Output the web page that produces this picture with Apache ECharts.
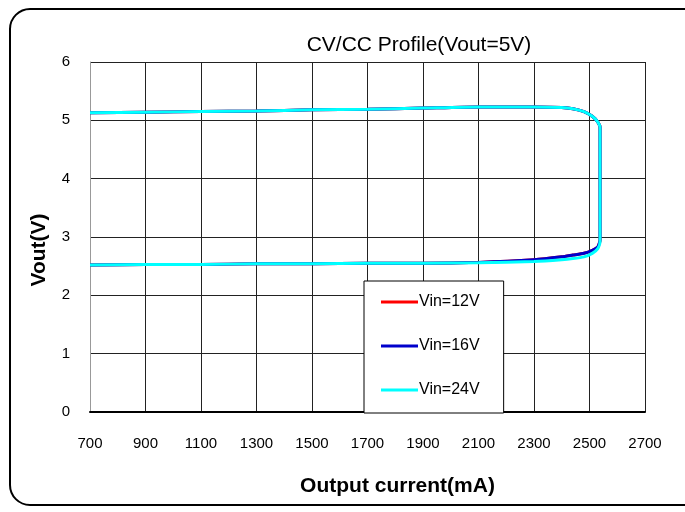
<!DOCTYPE html>
<html>
<head>
<meta charset="utf-8">
<script src="https://cdn.jsdelivr.net/npm/echarts@6/dist/echarts.min.js"></script>
<style>
  html, body { margin: 0; padding: 0; background: #fff; }
  #chart { width: 685px; height: 512px; }
</style>
</head>
<body>
<div id="chart"></div>
<script>
// output current (mA), traced along the loop: top branch left to right, then back along the bottom
const current = [700, 900, 1100, 1300, 1500, 1700, 1900, 2100, 2300, 2400, 2440, 2480, 2510, 2530, 2538,
                 2538, 2530, 2510, 2480, 2440, 2400, 2300, 2100, 1900, 1700, 1500, 1300, 1100, 900, 700];
const vin12 = [5.13, 5.14, 5.15, 5.16, 5.18, 5.19, 5.21, 5.23, 5.23, 5.22, 5.20, 5.15, 5.07, 4.97, 4.88,
               2.95, 2.83, 2.77, 2.72, 2.69, 2.66, 2.61, 2.565, 2.55, 2.55, 2.54, 2.54, 2.53, 2.53, 2.52];
const vin16 = [5.13, 5.14, 5.15, 5.16, 5.18, 5.19, 5.21, 5.23, 5.23, 5.22, 5.20, 5.15, 5.07, 4.97, 4.88,
               2.95, 2.83, 2.77, 2.72, 2.69, 2.66, 2.61, 2.565, 2.55, 2.55, 2.54, 2.54, 2.53, 2.53, 2.52];
const vin24 = [5.13, 5.14, 5.15, 5.16, 5.18, 5.19, 5.21, 5.23, 5.23, 5.22, 5.20, 5.15, 5.07, 4.97, 4.88,
               2.92, 2.80, 2.72, 2.66, 2.63, 2.61, 2.58, 2.56, 2.55, 2.55, 2.54, 2.54, 2.53, 2.53, 2.52];
const seriesNames = ['Vin=12V', 'Vin=16V', 'Vin=24V'];
const seriesColors = ['#ff0000', '#0000cc', '#00ffff'];

const font = 'Liberation Sans, Arial, sans-serif';
const pairs = (ys) => current.map((x, i) => [x, ys[i]]);

const chart = echarts.init(document.getElementById('chart'));
chart.setOption({
    animation: false,
    backgroundColor: '#fff',
    title: {
        text: 'CV/CC Profile(Vout=5V)',
        left: 414,
        top: 30,
        textAlign: 'center',
        textStyle: { fontFamily: font, fontSize: 21, fontWeight: 'normal', color: '#000' },
    },
    graphic: [
        {
            type: 'rect',
            z: -1,
            shape: { x: 10, y: 9, width: 700, height: 496, r: 20 },
            style: { fill: null, stroke: '#000', lineWidth: 2 },
        },
    ],
    legend: {
        orient: 'vertical',
        left: 364,
        top: 281,
        padding: [13, 24, 15, 17],
        itemGap: 28,
        itemWidth: 37,
        itemHeight: 3,
        icon: 'rect',
        backgroundColor: '#fff',
        borderColor: '#000',
        borderWidth: 1,
        textStyle: { fontFamily: font, fontSize: 16, color: '#000', padding: [0, 0, 0, -4] },
        data: seriesNames,
    },
    grid: { left: 90, right: 40, top: 62, bottom: 100 },
    xAxis: {
        type: 'value',
        min: 700,
        max: 2700,
        interval: 200,
        name: 'Output current(mA)',
        nameLocation: 'middle',
        nameGap: 64,
        nameTextStyle: { fontFamily: font, fontSize: 21, fontWeight: 'bold', color: '#000', padding: [0, 0, 0, 60] },
        axisLine: { lineStyle: { color: '#000', width: 2 } },
        axisTick: { show: false },
        axisLabel: { fontFamily: font, fontSize: 15, color: '#000', margin: 24, formatter: (v) => String(v) },
        splitLine: { lineStyle: { color: '#222', width: 1 } },
    },
    yAxis: {
        type: 'value',
        min: 0,
        max: 6,
        interval: 1,
        name: 'Vout(V)',
        nameLocation: 'middle',
        nameGap: 40,
        nameTextStyle: { fontFamily: font, fontSize: 21, fontWeight: 'bold', color: '#000', padding: [0, 26, 0, 0] },
        axisLine: { show: true, lineStyle: { color: '#999', width: 1 } },
        axisTick: { show: false },
        axisLabel: { fontFamily: font, fontSize: 15, color: '#000', margin: 20 },
        splitLine: { lineStyle: { color: '#222', width: 1 } },
    },
    series: [vin12, vin16, vin24].map((ys, i) => ({
        name: seriesNames[i],
        type: 'line',
        data: pairs(ys),
        showSymbol: false,
        smooth: 0.2,
        color: seriesColors[i],
        lineStyle: { width: 3, color: seriesColors[i] },
        z: 2 + i,
    })),
});
</script>
</body>
</html>
